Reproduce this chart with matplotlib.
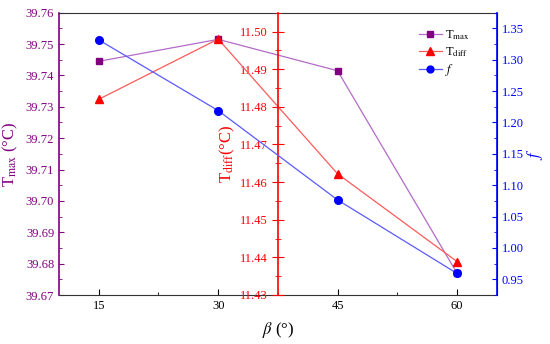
import matplotlib.pyplot as plt
from matplotlib.ticker import MultipleLocator

plt.rcParams['font.family'] = ['Liberation Serif', 'DejaVu Serif']
plt.rcParams['mathtext.fontset'] = 'stix'

beta = [15, 30, 45, 60]
t_max = [39.7445, 39.7515, 39.7415, 39.677]
t_diff = [11.482, 11.498, 11.4622, 11.4389]
f_val = [1.3316, 1.219, 1.0766, 0.9595]

c_max, c_max_l = '#800080', '#b36bc8'
c_diff, c_diff_l = '#ff0000', '#ff5a5a'
c_f, c_f_l = '#0000ff', '#5a5aff'

fig = plt.figure(figsize=(5.5, 3.44), dpi=100)
ax = fig.add_axes([59/550, 1 - 295/344, (496.7 - 59)/550, (295 - 12.7)/344])

l1, = ax.plot(beta, t_max, '-', color=c_max_l, lw=0.9, marker='s', ms=5,
              mfc=c_max, mec=c_max, label=r'T$_{\rm max}$')
ax.set_xlim(10, 65)
ax.set_ylim(39.67, 39.76)
ax.xaxis.set_major_locator(MultipleLocator(15))
ax.xaxis.set_minor_locator(MultipleLocator(7.5))
ax.yaxis.set_major_locator(MultipleLocator(0.01))
ax.yaxis.set_minor_locator(MultipleLocator(0.005))
ax.yaxis.set_major_formatter(plt.FormatStrFormatter('%.2f'))
ax.tick_params(axis='both', which='both', direction='in', labelsize=9)
ax.tick_params(axis='y', which='both', colors=c_max, right=False)
ax.tick_params(axis='x', which='major', length=4, top=False)
ax.tick_params(axis='x', which='minor', length=2, top=False)
ax.spines['left'].set_color(c_max)
ax.spines['left'].set_linewidth(1.2)
for s in ['top', 'bottom']:
    ax.spines[s].set_color('#333333')
ax.set_xlabel(r'$\beta$ (°)', fontsize=12, labelpad=6)
ax.set_ylabel(r'T$_{\rm max}$ (°C)', fontsize=12, color=c_max, labelpad=4)

# T_diff axis sitting in the middle of the plot
ax2 = ax.twinx()
l2, = ax2.plot(beta, t_diff, '-', color=c_diff_l, lw=0.9, marker='^', ms=6,
               mfc=c_diff, mec=c_diff, label=r'T$_{\rm diff}$')
ax2.set_ylim(11.43, 11.505)
ax2.yaxis.set_major_locator(MultipleLocator(0.01))
ax2.yaxis.set_minor_locator(MultipleLocator(0.005))
ax2.yaxis.set_major_formatter(plt.FormatStrFormatter('%.2f'))
ax2.spines['right'].set_visible(False)
ax2.spines['top'].set_visible(False)
ax2.spines['bottom'].set_visible(False)
ax2.spines['left'].set_visible(True)
ax2.spines['left'].set_position(('data', 37.5))
ax2.spines['left'].set_color(c_diff)
ax2.spines['left'].set_linewidth(1.2)
ax2.yaxis.tick_left()
ax2.yaxis.set_label_position('left')
ax2.tick_params(axis='y', which='both', direction='inout', colors=c_diff, labelsize=9)
ax2.tick_params(axis='y', which='major', length=8)
ax2.tick_params(axis='y', which='minor', length=5)
ax2.set_ylabel(r'T$_{\rm diff}$(°C)', fontsize=12, color=c_diff, labelpad=2)

# f axis on the right
ax3 = ax.twinx()
l3, = ax3.plot(beta, f_val, '-', color=c_f_l, lw=0.9, marker='o', ms=5.5,
               mfc=c_f, mec=c_f, label=r'$f$')
ax3.set_ylim(0.925, 1.375)
ax3.yaxis.set_major_locator(MultipleLocator(0.05))
ax3.yaxis.set_minor_locator(MultipleLocator(0.025))
ax3.yaxis.set_major_formatter(plt.FormatStrFormatter('%.2f'))
ax3.spines['right'].set_color(c_f)
ax3.spines['right'].set_linewidth(1.2)
ax3.spines['left'].set_visible(False)
ax3.spines['top'].set_visible(False)
ax3.spines['bottom'].set_visible(False)
ax3.tick_params(axis='y', which='both', direction='in', colors=c_f, labelsize=9)
ax3.set_ylabel(r'$f$', fontsize=12, color=c_f, labelpad=1)

ax3.legend(handles=[l1, l2, l3], loc='upper right', frameon=False, fontsize=9,
           handlelength=1.8, bbox_to_anchor=(0.965, 0.985), labelspacing=0.25,
           handletextpad=0.3, markerscale=0.9)

fig.savefig('out.png', dpi=100)
